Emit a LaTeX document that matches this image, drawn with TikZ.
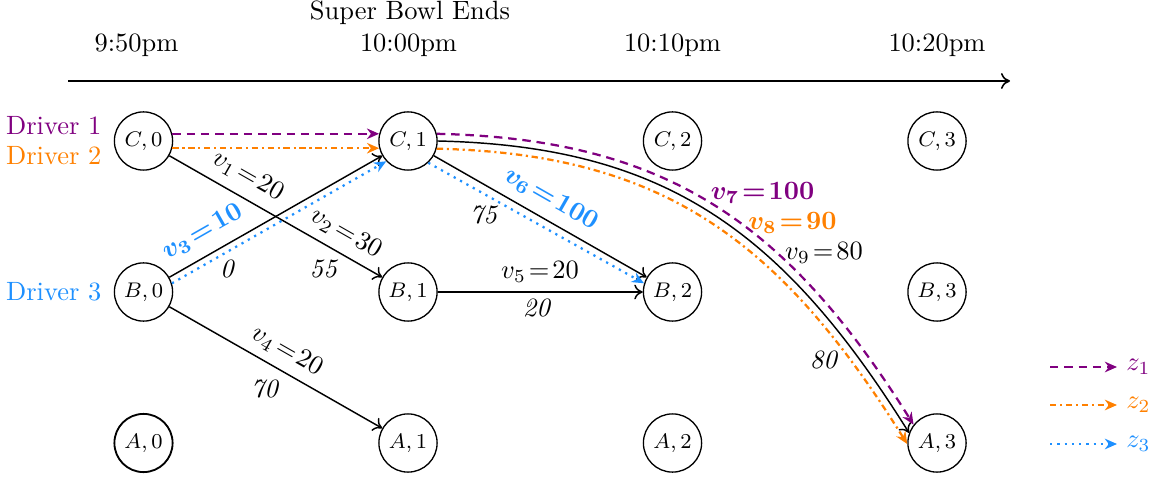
\documentclass[tikz,border=0pt]{standalone}
\usepackage{amsmath}
\usepackage{bm}
\usetikzlibrary{arrows.meta}
\definecolor{zpurple}{RGB}{128,0,128}
\definecolor{zorange}{RGB}{255,128,0}
\definecolor{zblue}{RGB}{30,144,255}
\newcommand{\bv}[2]{$\bm{v}_{\bm{#1}}\!\bm{=}\!\bm{#2}$}
\begin{document}
\begin{tikzpicture}[x=0.378pt,y=-0.378pt,
  state/.style={circle,draw,line width=0.5pt,minimum size=22pt,inner sep=0pt,font=\footnotesize},
  flow/.style={-{To[length=3.2pt,width=5.6pt]},line width=0.55pt},
  ztip/.style={-{Stealth[length=4.6pt,width=4pt]}},
  zone/.style={line width=0.85pt,zpurple,dash pattern=on 3.2pt off 2.2pt,ztip},
  ztwo/.style={line width=0.85pt,zorange,dash pattern=on 2.4pt off 1.4pt on 0.8pt off 1.4pt,ztip},
  zthree/.style={line width=0.85pt,zblue,dash pattern=on 0.85pt off 1.9pt,ztip},
  drv/.style={anchor=base east,inner sep=0pt},
  tim/.style={anchor=base},
  vlab/.style={inner sep=0pt},
]
\useasboundingbox (0,0) rectangle (1156,478);

% time axis
\node[tim] (sb) at (410,19.5) {Super Bowl Ends};
\node[tim] (t0) at (136.5,52) {9:50pm};
\node[tim] (t1) at (408.5,52) {10:00pm};
\node[tim] (t2) at (672.5,52) {10:10pm};
\node[tim] (t3) at (937,52) {10:20pm};
\coordinate (ax0) at (68,81);
\coordinate (ax1) at (1010,81);
\draw[-{To[length=3.4pt,width=6pt]},line width=0.6pt] (ax0) -- (ax1);

% states
\node[state] (C0) at (143.5,141) {$C,0$};
\node[state] (C1) at (408,141) {$C,1$};
\node[state] (C2) at (672.5,141) {$C,2$};
\node[state] (C3) at (937,141) {$C,3$};
\node[state] (B0) at (143.5,292) {$B,0$};
\node[state] (B1) at (408,292) {$B,1$};
\node[state] (B2) at (672.5,292) {$B,2$};
\node[state] (B3) at (937,292) {$B,3$};
\node[state,line width=0.7pt] (A0) at (143.5,443) {$A,0$};
\node[state] (A1) at (408,443) {$A,1$};
\node[state] (A2) at (672.5,443) {$A,2$};
\node[state] (A3) at (937,443) {$A,3$};

% drivers
\node[drv,text=zpurple] (d1) at (102,135) {Driver 1};
\node[drv,text=zorange] (d2) at (102,165) {Driver 2};
\node[drv,text=zblue] (d3) at (102,300) {Driver 3};

% edges
\draw[zone] (C0.14) -- (C1.166);
\draw[ztwo] (C0.-14) -- (C1.194);
\draw[flow] (C0) -- (B1);
\draw[flow] (B0) -- (C1);
\draw[zthree] (B0.17) -- (C1.223);
\draw[flow] (B0) -- (A1);
\draw[flow] (B1) -- (B2);
\draw[flow] (C1) -- (B2);
\draw[zthree] (C1.-47) -- (B2.163);
\draw[flow] (C1.east) .. controls +(226,5) and +(-127,-203) .. (A3.160);
\draw[zone] (C1.14) .. controls +(228,5) and +(-128,-204) .. (A3.142);
\draw[ztwo] (C1.-15) .. controls +(227,5) and +(-127,-203) .. (A3.182);

% labels
\node[vlab,rotate=-29.7] (lv1) at (248,176) {$v_1\!=\!20$};
\node[vlab,rotate=-29.7] (lv2) at (346,233.5) {$v_2\!=\!30$};
\node[vlab] (l55) at (324,269) {\textit{55}};
\node[vlab,rotate=29.7,text=zblue] (lv3) at (202.5,232) {\bv{3}{10}};
\node[vlab] (l0) at (227.5,269) {\textit{0}};
\node[vlab,rotate=-29.7] (lv4) at (287,351) {$v_4\!=\!20$};
\node[vlab] (l70) at (265,389) {\textit{70}};
\node[vlab] (lv5) at (540,272) {$v_5\!=\!20$};
\node[vlab] (l20) at (537,308) {\textit{20}};
\node[vlab,rotate=-29.7,text=zblue] (lv6) at (551,199) {\bv{6}{100}};
\node[vlab] (l75) at (484,215) {\textit{75}};
\node[vlab,text=zpurple] (lv7) at (762.5,192.5) {\bv{7}{100}};
\node[vlab,text=zorange] (lv8) at (792.5,223) {\bv{8}{90}};
\node[vlab] (lv9) at (824,253) {$v_9\!=\!80$};
\node[vlab] (l80) at (824,360) {\textit{80}};

% legend
\coordinate (g1) at (1050,367);
\coordinate (g2) at (1050,405);
\coordinate (g3) at (1050,444);
\node[anchor=west,text=zpurple] (z1) at (1117,367) {$z_1$};
\node[anchor=west,text=zorange] (z2) at (1117,405) {$z_2$};
\node[anchor=west,text=zblue] (z3) at (1117,444) {$z_3$};
\draw[zone] (g1) -- (z1.west);
\draw[ztwo] (g2) -- (z2.west);
\draw[zthree] (g3) -- (z3.west);
\end{tikzpicture}
\end{document}
